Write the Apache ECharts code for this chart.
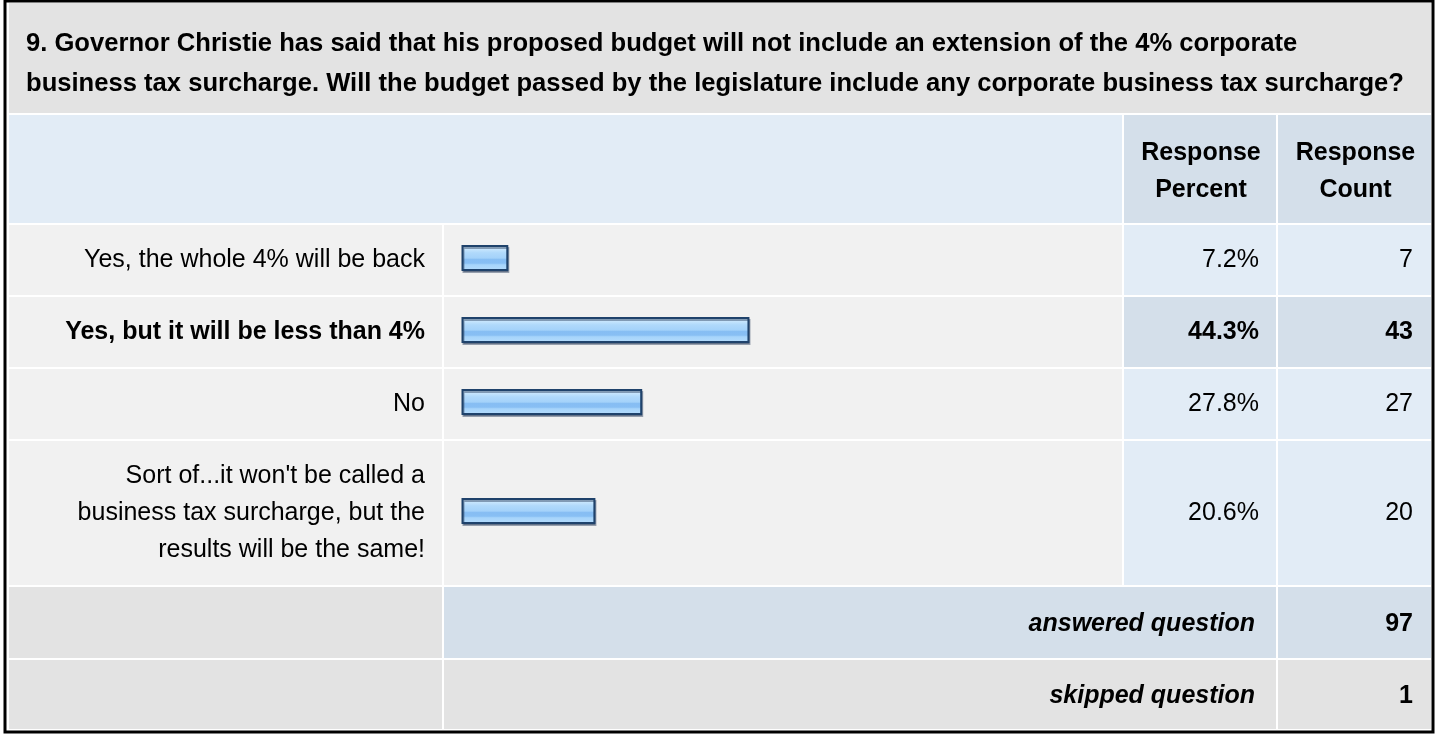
<!DOCTYPE html>
<html>
<head>
<meta charset="utf-8">
<script src="https://cdn.jsdelivr.net/npm/echarts@6/dist/echarts.min.js"></script>
<style>
html,body{margin:0;padding:0;background:#fff;}
#chart{width:1437px;height:734px;}
</style>
</head>
<body>
<div id="chart"></div>
<script>
// ---- data ----
const questionTitle = "9. Governor Christie has said that his proposed budget will not include an extension of the 4% corporate\nbusiness tax surcharge. Will the budget passed by the legislature include any corporate business tax surcharge?";
const categories = [
  "Yes, the whole 4% will be back",
  "Yes, but it will be less than 4%",
  "No",
  "Sort of...it won't be called a\nbusiness tax surcharge, but the\nresults will be the same!"
];
const responsePercent = [7.2, 44.3, 27.8, 20.6];
const responseCount = [7, 43, 27, 20];
const headerLabels = ["Response\nPercent", "Response\nCount"];
const summaryLabels = ["answered question", "skipped question"];
const summaryValues = [97, 1];

// ---- layout ----
const FONT = "'Liberation Sans', Helvetica, Arial, sans-serif";
const BODY = 25, TITLE = 25.6;
const colX = [9, 444, 1124, 1278, 1431]; // column edges (gaps of 2px)
const rowTops = [225, 297, 369, 441];
const rowBots = [295, 367, 439, 585];
const titleBox = [3, 113], headBox = [115, 223], ansBox = [587, 658], skipBox = [660, 729];
const barLeft = 461.5, barSpan = 650;

const C_GREY = '#e3e3e3', C_ROW = '#f1f1f1', C_BLUE = '#e2ecf6', C_BLUE2 = '#d4dfea';
const maxIdx = responsePercent.indexOf(Math.max(...responsePercent));

const g = [];
function rect(x0, y0, x1, y1, fill) {
  g.push({type: 'rect', silent: true, z: 1, shape: {x: x0, y: y0, width: x1 - x0, height: y1 - y0}, style: {fill: fill}});
}
function text(str, x, y, align, font, lh) {
  g.push({type: 'text', silent: true, z: 5, x: x, y: y,
    style: {text: str, textAlign: align, textVerticalAlign: 'middle', font: font, fill: '#000', lineHeight: lh || 37}});
}
// outer border
g.push({type: 'rect', silent: true, z: 0, shape: {x: 5, y: 1, width: 1428, height: 731}, style: {fill: '#fff', stroke: '#000', lineWidth: 3}});
// title
rect(colX[0], titleBox[0], colX[4], titleBox[1], C_GREY);
g.push({type: 'text', silent: true, z: 5, x: 26, y: 64,
  style: {text: questionTitle, textAlign: 'left', textVerticalAlign: 'middle', font: 'bold ' + TITLE + 'px ' + FONT, fill: '#000', lineHeight: 40}});
// header row
rect(colX[0], headBox[0], colX[2] - 2, headBox[1], C_BLUE);
rect(colX[2], headBox[0], colX[3] - 2, headBox[1], C_BLUE2);
rect(colX[3], headBox[0], colX[4], headBox[1], C_BLUE2);
text(headerLabels[0], (colX[2] + colX[3] - 2) / 2 + 1, 172, 'center', 'bold ' + BODY + 'px ' + FONT, 37);
text(headerLabels[1], (colX[3] + colX[4]) / 2 + 1, 172, 'center', 'bold ' + BODY + 'px ' + FONT, 37);
// answer rows
categories.forEach(function (c, i) {
  const t = rowTops[i], b = rowBots[i], m = (t + b) / 2;
  const hi = i === maxIdx;
  const f = (hi ? 'bold ' : '') + BODY + 'px ' + FONT;
  rect(colX[0], t, colX[1] - 2, b, C_ROW);
  rect(colX[1], t, colX[2] - 2, b, C_ROW);
  rect(colX[2], t, colX[3] - 2, b, hi ? C_BLUE2 : C_BLUE);
  rect(colX[3], t, colX[4], b, hi ? C_BLUE2 : C_BLUE);
  text(c, 425, m, 'right', f, 37);
  text(responsePercent[i].toFixed(1) + '%', 1259, m, 'right', f);
  text(String(responseCount[i]), 1413, m, 'right', f);
});
// summary rows
[ansBox, skipBox].forEach(function (bx, k) {
  const m = (bx[0] + bx[1]) / 2 + 2;
  const fill = k === 0 ? C_BLUE2 : C_GREY;
  rect(colX[0], bx[0], colX[1] - 2, bx[1], C_GREY);
  rect(colX[1], bx[0], colX[3] - 2, bx[1], fill);
  rect(colX[3], bx[0], colX[4], bx[1], fill);
  text(summaryLabels[k], 1255, m, 'right', 'italic bold ' + BODY + 'px ' + FONT);
  text(String(summaryValues[k]), 1413, m, 'right', 'bold ' + BODY + 'px ' + FONT);
});

// one grid per answer row so bars sit in rows of differing height
const grids = [], xAxes = [], yAxes = [], series = [];
const barFill = {type: 'linear', x: 0, y: 0, x2: 0, y2: 1, colorStops: [
  {offset: 0, color: '#d8eefe'}, {offset: 0.18, color: '#c4e4fd'}, {offset: 0.3, color: '#b0d9fb'},
  {offset: 0.5, color: '#a4d2fa'}, {offset: 0.56, color: '#86bdf3'}, {offset: 0.7, color: '#88bff4'},
  {offset: 0.76, color: '#a6d4fb'}, {offset: 1, color: '#b6dcfc'}]};
categories.forEach(function (c, i) {
  const t = rowTops[i], b = rowBots[i];
  grids.push({left: barLeft, width: barSpan, top: t, height: (b - t) - 4});
  xAxes.push({type: 'value', gridIndex: i, min: 0, max: 100, show: false});
  yAxes.push({type: 'category', gridIndex: i, data: [c], show: false});
  series.push({type: 'bar', xAxisIndex: i, yAxisIndex: i, data: [responsePercent[i]], barWidth: 26,
    silent: true, animation: false, z: 10,
    itemStyle: {color: barFill, borderColor: '#1f426b', borderWidth: 2,
      shadowColor: 'rgba(40,60,90,0.45)', shadowOffsetX: 1, shadowOffsetY: 2, shadowBlur: 0}});
});

const chart = echarts.init(document.getElementById('chart'), null, {renderer: 'canvas'});
chart.setOption({
  animation: false,
  graphic: {elements: g},
  grid: grids, xAxis: xAxes, yAxis: yAxes, series: series
});
</script>
</body>
</html>
